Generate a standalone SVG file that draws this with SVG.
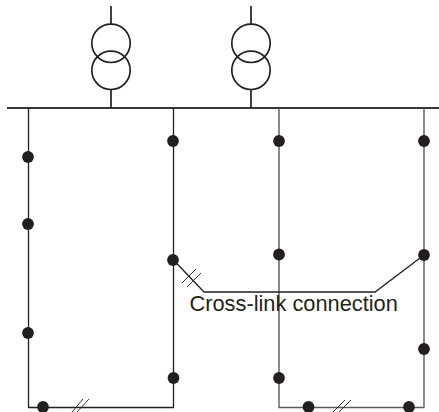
<svg xmlns="http://www.w3.org/2000/svg" width="439" height="412" viewBox="0 0 439 412">
<style>
.w{fill:none;stroke:#231f20;stroke-width:1.3}
.g{fill:none;stroke:#5a5a5c;stroke-width:1.4}
.t{fill:none;stroke:#231f20;stroke-width:1.7}
.b{fill:none;stroke:#3a3738;stroke-width:2}
.s{fill:none;stroke:#231f20;stroke-width:.9}
.d{fill:#231f20}
text{font-family:"Liberation Sans",Arial,sans-serif;font-size:21.800px;fill:#231f20}
</style>
<rect width="439" height="412" fill="#fff"/>
<g id="connectors">
<path class="b" d="M7 108H439"/>
<path class="w" d="M28.500 108V407.500H173.500V108"/>
<path class="g" d="M279 108V407.500H424V108"/>
<path class="w" d="M173.500 260L204 292H375L424 255"/>
<path class="s" d="M72 412L83 399M77 412L89 399M333 412L345 400M339 412L351 400M182 283L196 269M187 287L201 273"/>
</g>
<g id="transformer-1">
<path class="t" d="M111 6V24M111 90V108"/>
<circle class="t" cx="111" cy="43.300" r="19.200"/>
<circle class="t" cx="111" cy="70.300" r="19.200"/>
</g>
<g id="transformer-2">
<path class="t" d="M251 6V24M251 90V108"/>
<circle class="t" cx="251" cy="43.300" r="19.200"/>
<circle class="t" cx="251" cy="70.300" r="19.200"/>
</g>
<g id="nodes">
<circle class="d" cx="28" cy="157" r="5.900"/>
<circle class="d" cx="28" cy="224" r="5.900"/>
<circle class="d" cx="28" cy="333" r="5.900"/>
<circle class="d" cx="43" cy="407" r="5.900"/>
<circle class="d" cx="173" cy="141" r="5.900"/>
<circle class="d" cx="173" cy="260" r="5.900"/>
<circle class="d" cx="173.500" cy="378" r="5.900"/>
<circle class="d" cx="279" cy="141" r="5.900"/>
<circle class="d" cx="279" cy="254.500" r="5.900"/>
<circle class="d" cx="279" cy="378" r="5.900"/>
<circle class="d" cx="308.500" cy="407" r="5.900"/>
<circle class="d" cx="409" cy="407" r="5.900"/>
<circle class="d" cx="424" cy="141" r="5.900"/>
<circle class="d" cx="424" cy="255" r="5.900"/>
<circle class="d" cx="424" cy="349" r="5.900"/>
</g>
<g id="label"><text x="189.500" y="311">Cross-link connection</text></g>
</svg>
